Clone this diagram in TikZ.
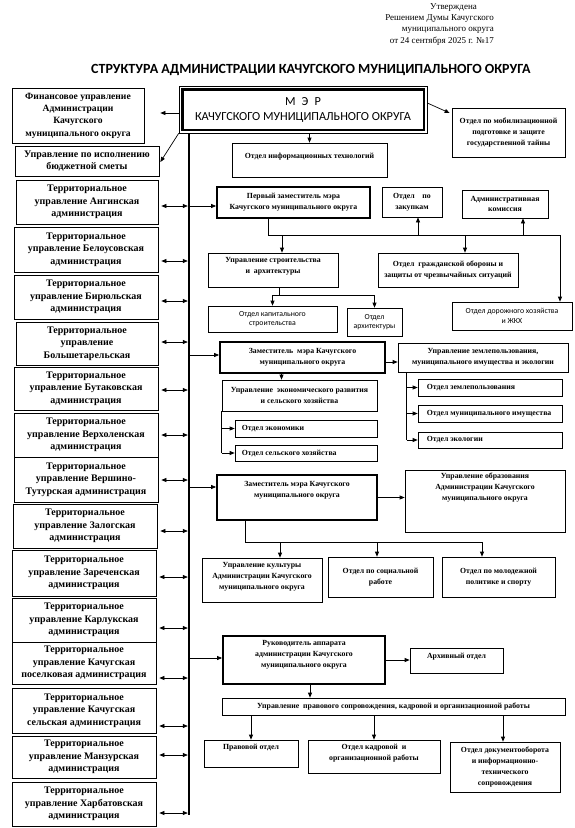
\documentclass[tikz,border=0pt]{standalone}
\usepackage{fontspec}
\setmainfont{Liberation Serif}
\newfontfamily\calfont{Carlito}
\usetikzlibrary{arrows.meta}
\newcommand\bx[7][]{\node[#1,minimum width={(#5-#3)*1pt},minimum height={(#6-#4)*1pt}] (#2) at ({(#3+#5)/2},{(#4+#6)/2}) {#7};}
\newcommand\lar[2]{\draw[darr] ([xshift=3pt]#1.east |- 0,#2) -- ([xshift=-1.2pt]vt |- 0,#2);}
\tikzset{
 box/.style={draw,line width=0.7pt,inner sep=0pt,align=center},
 lbox/.style={box,font=\fontsize{10}{12.6}\selectfont\bfseries},
 sbox/.style={box,font=\fontsize{7.8}{10.9}\selectfont\bfseries},
 cbox/.style={box,font=\calfont\fontsize{7.8}{9.8}\selectfont},
 thk/.style={line width=1.8pt},
 st/.style={font=\fontsize{7.8}{10.9}\selectfont\bfseries,align=center,inner sep=0pt},
 arr/.style={line width=0.7pt,-{Triangle[length=5pt,width=4pt]}},
 darr/.style={line width=0.7pt,{Triangle[length=5pt,width=4pt]}-{Triangle[length=5pt,width=4pt]}},
 ln/.style={line width=0.7pt},
}
\begin{document}
\begin{tikzpicture}[x=1pt,y=-1pt]
\useasboundingbox (0,0) rectangle (575,828);
% header
\node[anchor=north east,align=right,inner sep=0pt,font=\fontsize{9}{11.4}\selectfont] (appr) at (494,3)
 {Утверждена\kern17pt\\Решением Думы Качугского\\муниципального округа\\от 24 сентября 2025 г. №17};
\node[inner sep=0pt,font=\calfont\bfseries\fontsize{14}{16}\selectfont] (title) at (311,70)
 {СТРУКТУРА АДМИНИСТРАЦИИ КАЧУГСКОГО МУНИЦИПАЛЬНОГО ОКРУГА};
% mayor
\bx[box,line width=0.6pt,font=\calfont\fontsize{12.3}{15}\selectfont]{mayor}{179}{86}{427}{133}{М\enspace Э\enspace Р\\КАЧУГСКОГО МУНИЦИПАЛЬНОГО ОКРУГА}
\draw[line width=2.6pt] ([shift={(3.5,-3.5)}]mayor.south west) rectangle ([shift={(-3.5,3.5)}]mayor.north east);
% left column
\bx[lbox,font=\fontsize{9.6}{12.3}\selectfont\bfseries]{fin}{12}{88}{144}{143}{Финансовое управление\\Администрации\\Качугского\\муниципального округа}
\bx[lbox]{bud}{15}{146}{159}{176}{Управление по исполнению\\бюджетной сметы}
\bx[lbox]{ang}{16}{180}{158}{224}{Территориальное\\управление Ангинская\\администрация}
\bx[lbox]{bel}{14}{227}{158}{272}{Территориальное\\управление Белоусовская\\администрация}
\bx[lbox]{bir}{14}{275}{158}{319}{Территориальное\\управление Бирюльская\\администрация}
\bx[lbox]{bol}{16}{322}{158}{365}{Территориальное\\управление\\Большетарельская}
\bx[lbox]{but}{14}{367}{158}{410}{Территориальное\\управление Бутаковская\\администрация}
\bx[lbox]{ver}{14}{413}{158}{457}{Территориальное\\управление Верхоленская\\администрация}
\bx[lbox]{vtu}{14}{457}{158}{502}{Территориальное\\управление Вершино-\\Тутурская администрация}
\bx[lbox]{zal}{13}{504}{157}{548}{Территориальное\\управление Залогская\\администрация}
\bx[lbox]{zar}{12}{550}{156}{596}{Территориальное\\управление Зареченская\\администрация}
\bx[lbox]{kar}{12}{598}{156}{642}{Территориальное\\управление Карлукская\\администрация}
\bx[lbox]{kpo}{12}{642}{156}{684}{Территориальное\\управление Качугская\\поселковая администрация}
\bx[lbox]{kse}{12}{688}{156}{733}{Территориальное\\управление Качугская\\сельская администрация}
\bx[lbox]{man}{12}{736}{156}{778}{Территориальное\\управление Манзурская\\администрация}
\bx[lbox]{har}{12}{782}{156}{826}{Территориальное\\управление Харбатовская\\администрация}
% right side
\bx[sbox]{mob}{452}{108}{565}{157}{Отдел по мобилизационной\\подготовке и защите\\государственной тайны}
\bx[sbox,label={[st,anchor=center,yshift=-14pt]north:{Отдел информационных технологий}}]{it}{232}{143}{387}{177}{}
\bx[sbox,thk]{p1}{217}{187}{370}{218}{Первый заместитель мэра\\Качугского муниципального округа}
\bx[sbox]{zak}{382}{187}{442}{217}{Отдел\quad по\\закупкам}
\bx[sbox]{adm}{462}{190}{548}{218}{Административная\\комиссия}
\bx[sbox,label={[st,anchor=center,yshift=-14pt]north:{Управление строительства\\и\enspace архитектуры}}]{ust}{208}{253}{338}{287}{}
\bx[sbox]{go}{378}{253}{518}{287}{Отдел\enspace гражданской обороны и\\защиты от чрезвычайных ситуаций}
\bx[cbox]{kap}{208}{306}{337}{332}{Отдел капитального\\строительства}
\bx[cbox]{arh}{347}{308}{402}{336}{Отдел\\архитектуры}
\bx[cbox]{dor}{452}{302}{572}{330}{Отдел дорожного хозяйства\\и ЖКХ}
\bx[sbox,thk]{z1}{220}{342}{385}{373}{Заместитель\enspace мэра Качугского\\муниципального округа}
\bx[sbox]{zem}{398}{343}{568}{372}{Управление землепользования,\\муниципального имущества и экологии}
\bx[sbox]{eco}{222}{380}{377}{411}{Управление\enspace экономического развития\\и сельского хозяйства}
\bx[sbox,label={[st,anchor=west,xshift=7pt]west:{Отдел экономики}}]{oek}{235}{420}{377}{437}{}
\bx[sbox,label={[st,anchor=west,xshift=7pt]west:{Отдел сельского хозяйства}}]{osh}{235}{445}{377}{461}{}
\bx[sbox,label={[st,anchor=west,xshift=9pt]west:{Отдел землепользования}}]{ozp}{418}{379}{562}{396}{}
\bx[sbox,label={[st,anchor=west,xshift=9pt]west:{Отдел муниципального имущества}}]{oim}{418}{405}{562}{422}{}
\bx[sbox,label={[st,anchor=west,xshift=9pt]west:{Отдел экологии}}]{oel}{418}{432}{562}{448}{}
\bx[sbox,thk,label={[st,anchor=center,yshift=-16pt]north:{Заместитель мэра Качугского\\муниципального округа}}]{z2}{217}{475}{377}{520}{}
\bx[sbox,label={[st,anchor=center,yshift=-18pt]north:{Управление образования\\Администрации Качугского\\муниципального округа}}]{obr}{405}{470}{565}{532}{}
\bx[sbox,label={[st,anchor=center,yshift=-19pt]north:{Управление культуры\\Администрации Качугского\\муниципального округа}}]{kul}{202}{558}{322}{602}{}
\bx[sbox]{soc}{328}{557}{433}{597}{Отдел по социальной\\работе}
\bx[sbox]{mol}{442}{557}{555}{597}{Отдел по молодежной\\политике и спорту}
\bx[sbox,thk,label={[st,anchor=center,yshift=-19.5pt]north:{Руководитель аппарата\\администрации Качугского\\муниципального округа}}]{ruk}{223}{636}{385}{684}{}
\bx[sbox,label={[st,anchor=center,yshift=-9pt]north:{Архивный отдел}}]{arch}{410}{648}{503}{673}{}
\bx[sbox]{upr}{222}{698}{565}{715}{Управление\enspace правового сопровождения, кадровой и организационной работы}
\bx[sbox,label={[st,anchor=center,yshift=-8pt]north:{Правовой отдел}}]{prav}{204}{740}{298}{767}{}
\bx[sbox,label={[st,anchor=center,yshift=-13.5pt]north:{Отдел кадровой\enspace и\\организационной работы}}]{kadr}{308}{740}{440}{773}{}
\bx[sbox]{doc}{450}{742}{560}{792}{Отдел документооборота\\и информационно-\\технического\\сопровождения}
% main vertical line
\coordinate (vt) at (189,133);
\coordinate (vb) at (189,815);
\draw[line width=1.8pt] (vt) -- (vb);
% mayor connectors
\draw[arr] (mayor.west |- 0,113) -- ([xshift=16pt]fin.east |- 0,113);
\draw[arr] (mayor.south west) -- ([xshift=1pt]bud.east |- 0,162);
\draw[arr] (mayor.east |- 0,103) -- ([xshift=-2pt]mob.west |- 0,113);
\draw[arr] (it.north |- mayor.south) -- (it.north);
% left double arrows
\lar{ang}{206}\lar{bel}{261}\lar{bir}{301}\lar{bol}{342}\lar{but}{390}
\lar{ver}{435}\lar{vtu}{480}\lar{zal}{531}\lar{zar}{577}\lar{kar}{628}
\lar{kpo}{678}\lar{kse}{726}\lar{man}{755}\lar{har}{813}
% line to deputies
\draw[arr] ([xshift=1pt]vt |- 0,206) -- (p1.west |- 0,206);
\draw[arr] ([xshift=1pt]vt |- 0,355) -- (z1.west |- 0,355);
\draw[arr] ([xshift=1pt]vt |- 0,487) -- (z2.west |- 0,487);
\draw[arr] ([xshift=1pt]vt |- 0,658) -- (ruk.west |- 0,658);
% first deputy bus
\coordinate (b1) at (268,235);
\coordinate (b1r) at (560,235);
\draw[ln] ([xshift=-25.5pt]p1.south) -- (b1) -- (b1r);
\draw[arr] (b1r) -- (b1r |- dor.north);
\draw[arr] ([xshift=9pt]ust.north |- b1) -- ([xshift=9pt]ust.north);
\draw[arr] ([xshift=6pt]zak.south |- b1) -- ([xshift=6pt]zak.south);
\draw[arr] ([xshift=17pt]go.north |- b1) -- ([xshift=17pt]go.north);
\draw[arr] ([xshift=18pt]adm.south |- b1) -- ([xshift=18pt]adm.south);
% construction bus
\coordinate (b2) at (279,295);
\draw[ln] ([xshift=6pt]ust.south) -- (b2);
\draw[ln] (kap.north |- b2) -- (arh.north |- b2);
\draw[arr] (kap.north |- b2) -- (kap.north);
\draw[arr] (arh.north |- b2) -- (arh.north);
% deputy 1
\draw[arr] ([xshift=-18pt]eco.north |- z1.south) -- ([xshift=-18pt]eco.north);
\draw[arr] ([yshift=-4.5pt]z1.east) -- ([yshift=-4.5pt]z1.east -| zem.west);
\draw[ln] (eco.south west) -- (eco.west |- osh.west);
\draw[arr] (eco.west |- oek.west) -- (oek.west);
\draw[arr] (eco.west |- osh.west) -- (osh.west);
\draw[ln] ([xshift=9pt]zem.south west) -- ([xshift=9pt]zem.west |- oel.west);
\draw[arr] ([xshift=9pt]zem.west |- ozp.west) -- (ozp.west);
\draw[arr] ([xshift=9pt]zem.west |- oim.west) -- (oim.west);
\draw[arr] ([xshift=9pt]zem.west |- oel.west) -- (oel.west);
% deputy 2
\draw[arr] (z2.east) -- (z2.east -| obr.west);
\coordinate (b3) at (245,542);
\draw[ln] ([xshift=-52pt]z2.south) -- (b3) -- ([xshift=-16.5pt]mol.north |- b3);
\draw[arr] ([xshift=18pt]kul.north |- b3) -- ([xshift=18pt]kul.north);
\draw[arr] ([xshift=-3.5pt]soc.north |- b3) -- ([xshift=-3.5pt]soc.north);
\draw[arr] ([xshift=-16.5pt]mol.north |- b3) -- ([xshift=-16.5pt]mol.north);
% head of apparatus
\draw[arr] (ruk.east) -- (ruk.east -| arch.west);
\draw[arr] ([xshift=6pt]ruk.south) -- ([xshift=6pt]ruk.south |- upr.north);
\draw[arr] (prav.north |- upr.south) -- (prav.north);
\draw[arr] (kadr.north |- upr.south) -- (kadr.north);
\draw[arr] ([xshift=-2pt]doc.north |- upr.south) -- ([xshift=-2pt]doc.north);
\end{tikzpicture}
\end{document}
